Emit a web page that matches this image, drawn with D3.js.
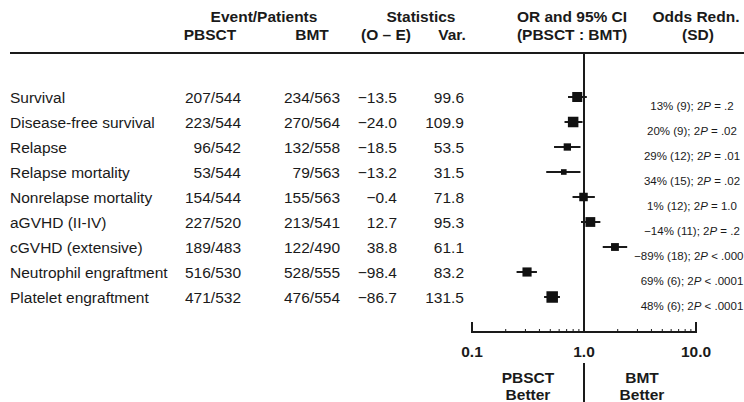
<!DOCTYPE html>
<html>
<head>
<meta charset="utf-8">
<script src="https://cdn.jsdelivr.net/npm/d3@7"></script>
<style>
  body { margin: 0; background: #fff; }
  svg { display: block; font-family: 'Liberation Sans', Arial, sans-serif; }
  .bold { font-weight: bold; }
</style>
</head>
<body>
<svg width="744" height="402"></svg>
<script>
const outcomes = ['Survival', 'Disease-free survival', 'Relapse', 'Relapse mortality',
  'Nonrelapse mortality', 'aGVHD (II-IV)', 'cGVHD (extensive)', 'Neutrophil engraftment',
  'Platelet engraftment'];
const pbsctEvents = ['207/544', '223/544', '96/542', '53/544', '154/544', '227/520', '189/483', '516/530', '471/532'];
const bmtEvents = ['234/563', '270/564', '132/558', '79/563', '155/563', '213/541', '122/490', '528/555', '476/554'];
const oMinusE = [-13.5, -24.0, -18.5, -13.2, -0.4, 12.7, 38.8, -98.4, -86.7];
const variance = [99.6, 109.9, 53.5, 31.5, 71.8, 95.3, 61.1, 83.2, 131.5];
const oddsRatio = [0.87, 0.80, 0.71, 0.66, 0.99, 1.14, 1.89, 0.31, 0.52];
const ciLow = [0.72, 0.67, 0.54, 0.46, 0.79, 0.94, 1.47, 0.25, 0.44];
const ciHigh = [1.06, 0.97, 0.93, 0.93, 1.25, 1.40, 2.43, 0.38, 0.61];
const reduction = ['13%', '20%', '29%', '34%', '1%', '\u221214%', '\u221289%', '69%', '48%'];
const reductionSD = [9, 9, 12, 15, 12, 11, 18, 6, 6];
const pText = ['= .2', '= .02', '= .01', '= .02', '= 1.0', '= .2', '< .0001', '< .0001', '< .0001'];
const axisTicks = [0.1, 1, 10];
const axisTickLabels = ['0.1', '1.0', '10.0'];

const svg = d3.select('svg');
const ink = '#1a1a1a';

const x = d3.scaleLog().domain([0.1, 10]).range([472, 696]);
const y = d3.scalePoint().domain(outcomes).range([97, 297]);
const boxSize = d3.scaleSqrt().domain([0, 131.5]).range([0, 11.5]);
const fmt = d3.format('.1f');

const rows = outcomes.map((o, i) => ({
  name: o, pb: pbsctEvents[i], bm: bmtEvents[i], oe: oMinusE[i], v: variance[i],
  or: oddsRatio[i], lo: ciLow[i], hi: ciHigh[i],
  red: reduction[i], sd: reductionSD[i], p: pText[i]
}));

// header
const head = [
  ['Event/Patients', 264, 22], ['Statistics', 421, 22], ['OR and 95% CI', 572, 22], ['Odds Redn.', 696, 22],
  ['PBSCT', 210, 40], ['BMT', 312, 40], ['(O \u2013 E)', 386, 40], ['Var.', 452, 40],
  ['(PBSCT : BMT)', 572, 40], ['(SD)', 698, 40]
];
svg.append('g').selectAll('text').data(head).enter().append('text')
  .attr('class', 'bold')
  .attr('x', d => d[1])
  .attr('y', d => d[2])
  .attr('text-anchor', 'middle')
  .attr('font-size', 15.5)
  .attr('fill', ink)
  .text(d => d[0]);

svg.append('line')
  .attr('x1', 10).attr('x2', 744).attr('y1', 53).attr('y2', 53)
  .attr('stroke', ink).attr('stroke-width', 2);

// table columns
const cols = [
  { x: 10, anchor: 'start', f: d => d.name },
  { x: 241, anchor: 'end', f: d => d.pb },
  { x: 340, anchor: 'end', f: d => d.bm },
  { x: 397, anchor: 'end', f: d => fmt(d.oe) },
  { x: 464, anchor: 'end', f: d => fmt(d.v) }
];
cols.forEach(c => {
  svg.append('g').selectAll('text').data(rows).enter().append('text')
    .attr('x', c.x)
    .attr('y', d => y(d.name) + 6)
    .attr('text-anchor', c.anchor)
    .attr('font-size', 15.5)
    .attr('fill', ink)
    .text(c.f);
});

// reference line at OR = 1
svg.append('line')
  .attr('x1', x(1)).attr('x2', x(1)).attr('y1', 53).attr('y2', 332)
  .attr('stroke', ink).attr('stroke-width', 2);

// CI lines and boxes
const marks = svg.append('g');
marks.selectAll('line').data(rows).enter().append('line')
  .attr('x1', d => x(d.lo)).attr('x2', d => x(d.hi))
  .attr('y1', d => y(d.name)).attr('y2', d => y(d.name))
  .attr('stroke', ink).attr('stroke-width', 2);
marks.selectAll('rect').data(rows).enter().append('rect')
  .attr('x', d => x(d.or) - boxSize(d.v) / 2)
  .attr('y', d => y(d.name) - boxSize(d.v) / 2)
  .attr('width', d => boxSize(d.v))
  .attr('height', d => boxSize(d.v))
  .attr('fill', '#111');

// odds reduction column
const red = svg.append('g').selectAll('text').data(rows).enter().append('text')
  .attr('x', 692)
  .attr('y', d => y(d.name) + 13)
  .attr('text-anchor', 'middle')
  .attr('font-size', 11.5)
  .attr('fill', ink);
red.append('tspan').text(d => `${d.red} (${d.sd}); 2`);
red.append('tspan').attr('font-style', 'italic').text('P');
red.append('tspan').text(d => ` ${d.p}`);

// axis
const axisY = 332;
const minor = [];
[0.1, 1].forEach(b => { for (let k = 2; k <= 9; k++) minor.push(b * k); });
const ax = svg.append('g');
ax.append('line')
  .attr('x1', x(0.1)).attr('x2', x(10)).attr('y1', axisY).attr('y2', axisY)
  .attr('stroke', ink).attr('stroke-width', 2);
ax.selectAll('.minor').data(minor).enter().append('line')
  .attr('x1', d => x(d)).attr('x2', d => x(d))
  .attr('y1', axisY).attr('y2', axisY - 3)
  .attr('stroke', ink).attr('stroke-width', 1);
ax.selectAll('.end').data([0.1, 10]).enter().append('line')
  .attr('x1', d => x(d)).attr('x2', d => x(d))
  .attr('y1', axisY + 1).attr('y2', axisY - 10)
  .attr('stroke', ink).attr('stroke-width', 2);
ax.selectAll('text').data(axisTicks).enter().append('text')
  .attr('class', 'bold')
  .attr('x', d => x(d))
  .attr('y', 357)
  .attr('text-anchor', 'middle')
  .attr('font-size', 15.5)
  .attr('fill', ink)
  .text((d, i) => axisTickLabels[i]);

// better labels
svg.append('line')
  .attr('x1', x(1)).attr('x2', x(1)).attr('y1', 363).attr('y2', 402)
  .attr('stroke', ink).attr('stroke-width', 2);
const better = [['PBSCT', 528, 383], ['Better', 528, 400], ['BMT', 642, 383], ['Better', 642, 400]];
svg.append('g').selectAll('text').data(better).enter().append('text')
  .attr('class', 'bold')
  .attr('x', d => d[1]).attr('y', d => d[2])
  .attr('text-anchor', 'middle')
  .attr('font-size', 15.5)
  .attr('fill', ink)
  .text(d => d[0]);
</script>
</body>
</html>
